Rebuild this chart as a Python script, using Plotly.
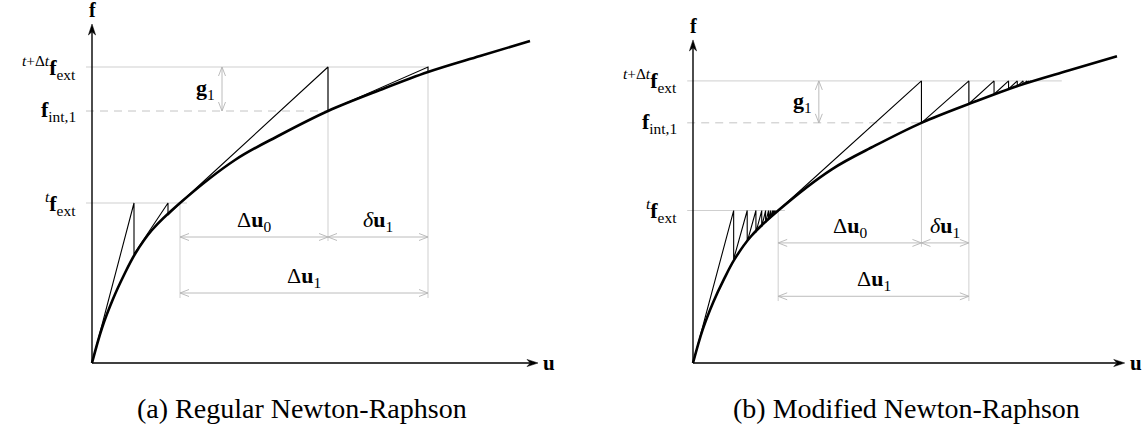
import plotly.graph_objects as go

# ---------------- data ----------------
# internal force curve f(u), shared by both panels
curve_u = [0.00, 0.10, 0.21, 0.32, 0.43, 0.60, 0.88, 1.43, 1.88, 2.36, 2.88, 3.36, 3.88, 4.38]
curve_f = [0.00, 0.35, 0.64, 0.88, 1.09, 1.33, 1.60, 2.03, 2.28, 2.52, 2.73, 2.91, 3.07, 3.22]

f_ext_prev = 1.60   # t f_ext
f_ext_next = 2.96   # t+dt f_ext
f_int_1 = 2.52      # f_int,1
u_prev = 0.88       # converged u at time t
u_0 = 2.36          # after first increment

# Regular Newton-Raphson: peak u of each tangent and the foot on the curve
nr_step1_u = [0.42, 0.76, 0.88]
nr_step1_f = [1.09, 1.48, 1.60]
nr_step2_u = [2.36, 3.36]
nr_step2_f = [2.52, 2.91]
u_1_nr = 3.36

# Modified Newton-Raphson
mnr_step1_u = [0.42, 0.56, 0.65, 0.71, 0.75, 0.78, 0.80, 0.82, 0.83, 0.84, 0.85]
mnr_step1_f = [1.09, 1.27, 1.37, 1.43, 1.47, 1.50, 1.52, 1.54, 1.55, 1.56, 1.57]
mnr_step2_u = [2.36, 2.85, 3.11, 3.26, 3.35, 3.41, 3.45, 3.47, 3.49]
mnr_step2_f = [2.52, 2.72, 2.82, 2.875, 2.905, 2.925, 2.94, 2.945, 2.95]
u_1_mnr = 2.85

axis_u_max = 4.46
axis_f_max = 3.39

captions = ["(a) Regular Newton-Raphson", "(b) Modified Newton-Raphson"]

# ---------------- geometry / styles ----------------
W, H = 1143, 432
FONT = "Liberation Serif"
GRID = "#cfcfcf"
DIM = "#b4b4b4"

panels = [
    dict(xa="x", ya="y", ox=92, oy=363, sx=100.0, sy=100.0, dom=[0.0, 0.5],
         cap_x=302, grid_end=u_1_nr, u1=u_1_nr),
    dict(xa="x2", ya="y2", ox=693, oy=363, sx=96.8, sy=95.3, dom=[0.5, 1.0],
         cap_x=906, grid_end=3.81, u1=u_1_mnr),
]

fig = go.Figure()


def add_line(p, us, fs, color="black", width=1.1, dash=None, shape="linear"):
    fig.add_trace(go.Scatter(
        x=us, y=fs, mode="lines", xaxis=p["xa"], yaxis=p["ya"],
        line=dict(color=color, width=width, dash=dash, shape=shape, smoothing=1.0),
        hoverinfo="skip", showlegend=False))


def chevron(p, u, f, direction, L=9, w=3.5):
    du, df = L / p["sx"], L / p["sy"]
    wu, wf = w / p["sx"], w / p["sy"]
    if direction == "left":
        return [u + du, u, u + du, None], [f + wf, f, f - wf, None]
    if direction == "right":
        return [u - du, u, u - du, None], [f + wf, f, f - wf, None]
    if direction == "up":
        return [u - wu, u, u + wu, None], [f - df, f, f - df, None]
    return [u - wu, u, u + wu, None], [f + df, f, f + df, None]


def dim_h(p, ua, ub, f):
    us, fs = [ua, ub, None], [f, f, None]
    for uu, ff, d in ((ua, f, "left"), (ub, f, "right")):
        cu, cf = chevron(p, uu, ff, d)
        us += cu
        fs += cf
    return us, fs


def iteration_path(start, peaks, feet, level):
    us, fs = [start[0]], [start[1]]
    for pu, ft in zip(peaks, feet):
        us += [pu, pu]
        fs += [level, ft]
    return us, fs


annotations = []
dim_f0, dim_f1 = 1.26, 0.70
g_u = 1.30
tick = 0.06

for i, p in enumerate(panels):
    x0px, x1px = p["dom"][0] * W, p["dom"][1] * W
    xr = [(x0px - p["ox"]) / p["sx"], (x1px - p["ox"]) / p["sx"]]
    yr = [(p["oy"] - H) / p["sy"], p["oy"] / p["sy"]]
    axcommon = dict(visible=False, fixedrange=True)
    fig.update_layout(**{
        ("xaxis" if i == 0 else "xaxis2"): dict(domain=p["dom"], range=xr, anchor=p["ya"], **axcommon),
        ("yaxis" if i == 0 else "yaxis2"): dict(domain=[0, 1], range=yr, anchor=p["xa"], **axcommon),
    })

    u1 = p["u1"]
    # light grid guides
    gu = [-tick, 0.95, None, -tick, p["grid_end"], None,
          u_prev, u_prev, None, u_0, u_0, None, u1, u1, None]
    gf = [f_ext_prev, f_ext_prev, None, f_ext_next, f_ext_next, None,
          f_ext_prev, dim_f1 - 0.05, None, f_ext_next, dim_f0 - 0.04, None,
          f_ext_next, dim_f1 - 0.05, None]
    add_line(p, gu, gf, color=GRID, width=1.0)
    add_line(p, [-tick, u_0], [f_int_1, f_int_1], color="#c4c4c4", width=1.0, dash="8px,6px")

    # dimension arrows
    du, df = [], []
    for ua, ub, ff in ((u_prev, u_0, dim_f0), (u_0, u1, dim_f0), (u_prev, u1, dim_f1)):
        a, b = dim_h(p, ua, ub, ff)
        du += a
        df += b
    du += [g_u, g_u, None]
    df += [f_int_1, f_ext_next, None]
    for ff, d in ((f_ext_next, "up"), (f_int_1, "down")):
        a, b = chevron(p, g_u, ff, d)
        du += a
        df += b
    add_line(p, du, df, color=DIM, width=0.9)

    # axes
    add_line(p, [0, axis_u_max - 8 / p["sx"], None, 0, 0],
             [0, 0, None, 0, axis_f_max - 8 / p["sy"]], color="black", width=1.4)
    L, w = 11, 3.6
    fig.add_trace(go.Scatter(
        x=[axis_u_max, axis_u_max - L / p["sx"], axis_u_max - 0.7 * L / p["sx"], axis_u_max - L / p["sx"], axis_u_max],
        y=[0, w / p["sy"], 0, -w / p["sy"], 0],
        mode="lines", fill="toself", fillcolor="black", line=dict(color="black", width=0.5),
        xaxis=p["xa"], yaxis=p["ya"], hoverinfo="skip", showlegend=False))
    fig.add_trace(go.Scatter(
        x=[0, w / p["sx"], 0, -w / p["sx"], 0],
        y=[axis_f_max, axis_f_max - L / p["sy"], axis_f_max - 0.7 * L / p["sy"], axis_f_max - L / p["sy"], axis_f_max],
        mode="lines", fill="toself", fillcolor="black", line=dict(color="black", width=0.5),
        xaxis=p["xa"], yaxis=p["ya"], hoverinfo="skip", showlegend=False))

    # iterations
    if i == 0:
        a1, b1 = iteration_path((0, 0), nr_step1_u, nr_step1_f, f_ext_prev)
        a2, b2 = iteration_path((u_prev, f_ext_prev), nr_step2_u, nr_step2_f, f_ext_next)
    else:
        a1, b1 = iteration_path((0, 0), mnr_step1_u, mnr_step1_f, f_ext_prev)
        a2, b2 = iteration_path((u_prev, f_ext_prev), mnr_step2_u, mnr_step2_f, f_ext_next)
    add_line(p, a1 + a2, b1 + b2, color="black", width=1.1)

    # curve
    add_line(p, curve_u, curve_f, color="black", width=2.6, shape="spline")

    xr_, yr_ = p["xa"], p["ya"]
    fs = 22

    def ann(text, x, y, **kw):
        d = dict(text=text, x=x, y=y, xref=xr_, yref=yr_, showarrow=False,
                 font=dict(family=FONT, size=kw.pop("size", fs), color="black"))
        d.update(kw)
        annotations.append(d)

    ann("<sup><i>t</i>+Δ<i>t</i></sup><b>f</b><sub>ext</sub>", 0, f_ext_next, xanchor="right", yanchor="middle", xshift=-14)
    ann("<b>f</b><sub>int,1</sub>", 0, f_int_1, xanchor="right", yanchor="middle", xshift=-14)
    ann("<sup><i>t</i></sup><b>f</b><sub>ext</sub>", 0, f_ext_prev, xanchor="right", yanchor="middle", xshift=-14)
    ann("<b>f</b>", 0, axis_f_max, xanchor="center", yanchor="middle", yshift=14, size=20)
    ann("<b>u</b>", axis_u_max, 0, xanchor="left", yanchor="middle", xshift=3, size=21)
    ann("<b>g</b><sub>1</sub>", g_u, (f_int_1 + f_ext_next) / 2, xanchor="right", yanchor="middle", xshift=-5)
    ann("Δ<b>u</b><sub>0</sub>", (u_prev + u_0) / 2, dim_f0, xanchor="center", yanchor="bottom", yshift=0)
    ann("<i>δ</i><b>u</b><sub>1</sub>", (u_0 + u1) / 2, dim_f0, xanchor="center", yanchor="bottom", yshift=0)
    ann("Δ<b>u</b><sub>1</sub>", (u_prev + u1) / 2, dim_f1, xanchor="center", yanchor="bottom", yshift=0)

    annotations.append(dict(text=captions[i], x=p["cap_x"] / W, y=1 - 408 / H, xref="paper", yref="paper",
                            showarrow=False, xanchor="center", yanchor="middle",
                            font=dict(family=FONT, size=28, color="black")))

fig.update_layout(width=W, height=H, margin=dict(l=0, r=0, t=0, b=0),
                  plot_bgcolor="white", paper_bgcolor="white",
                  annotations=annotations, showlegend=False)
fig.write_html("out.html")
